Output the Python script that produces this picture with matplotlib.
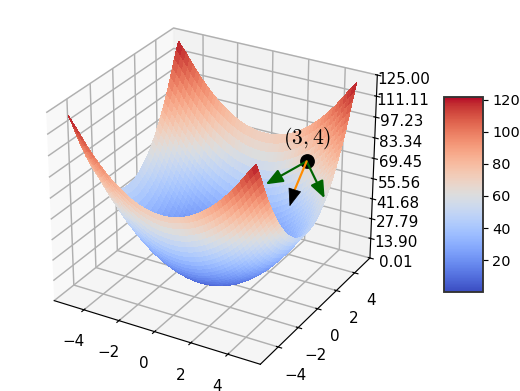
####################################################

# Load modules

import numpy as np
import matplotlib
matplotlib.use("Agg")
from matplotlib import pyplot as plt
from matplotlib import cm
from matplotlib.patches import FancyArrowPatch
from matplotlib.transforms import IdentityTransform
from mpl_toolkits.mplot3d import proj3d

####################################################

# Values

# heights of the bowl along each axis, from -5 to 0 in steps of 0.2 (mirrored for 0 to 5)
x_half = [48.5, 45.3, 42.32, 38.72, 35.28, 32, 28.88, 25.92, 23.12, 20.48, 18, 15.68, 13.52,
          11.52, 9.68, 8, 6.48, 5.12, 3.92, 2.88, 2, 1.28, 0.72, 0.32, 0.08, 0.01]
y_half = [73, 68.4, 63.48, 58.08, 52.92, 48, 43.32, 38.88, 34.68, 30.72, 27, 23.52, 20.28,
          17.28, 14.52, 12, 9.72, 7.68, 5.88, 4.32, 3, 1.92, 1.08, 0.48, 0.12, 0]
axis_half = [-5, -4.8, -4.6, -4.4, -4.2, -4, -3.8, -3.6, -3.4, -3.2, -3, -2.8, -2.6,
             -2.4, -2.2, -2, -1.8, -1.6, -1.4, -1.2, -1, -0.8, -0.6, -0.4, -0.2, 0]

z_ticks = [0.01, 13.90, 27.79, 41.68, 55.56, 69.45, 83.34, 97.23, 111.11, 125.00]
xy_ticks = [-4, -2, 0, 2, 4]
bar_ticks = [20, 40, 60, 80, 100, 120]

point = [2.9, 4, 68]
point_label = r"$(3,4)$"

####################################################

plt.rcParams["mathtext.fontset"] = "cm"
plt.rcParams["font.size"] = 10.5
plt.rcParams["grid.linewidth"] = 1.0

axis_vals = np.array(axis_half + [-v for v in axis_half[-2::-1]])
x_prof = np.array(x_half + x_half[-2::-1])
y_prof = np.array(y_half + y_half[-2::-1])
X, Y = np.meshgrid(axis_vals, axis_vals)
Z = x_prof[None, :] + y_prof[:, None]

fig = plt.figure(figsize=(5, 3.76), dpi=104)
ax = fig.add_axes([0.0135, 0.02, 0.78, 0.97], projection="3d", computed_zorder=False)
ax.view_init(elev=27.7, azim=-60)
ax.set_box_aspect((4, 4, 3.54), zoom=1.01)

surf = ax.plot_surface(X, Y, Z, rcount=51, ccount=51, cmap=cm.coolwarm,
                       linewidth=0, antialiased=False, vmin=0, vmax=122, zorder=1)
ax.set_xticks(xy_ticks)
ax.set_yticks(xy_ticks)
ax.set_zticks(z_ticks)
ax.set_zticklabels(["%.2f" % v for v in z_ticks])
ax.set_zlim(0.01, 125)

ax.scatter([point[0]], [point[1]], [point[2]], s=85, color="black", depthshade=False, zorder=10)
ax.text(point[0], point[1], point[2] + 12, point_label, fontsize=15, ha="center", zorder=11)

cax = fig.add_axes([0.854, 0.253, 0.075, 0.5])
cax.set_facecolor("0.5")
cb = fig.colorbar(surf, cax=cax, ticks=bar_ticks, alpha=0.85)
cb.outline.set_linewidth(1.3)
cb.outline.set_edgecolor("0.2")
cax.tick_params(labelsize=10, pad=3)

# arrows, as pixel offsets from the dot
fig.canvas.draw()
px, py, _ = proj3d.proj_transform(point[0], point[1], point[2], ax.get_proj())
dot = ax.transData.transform((px, py))

arrow_offsets = [(-41, -23), (18, -37)]
for dx, dy in arrow_offsets:
    fig.add_artist(FancyArrowPatch(tuple(dot), (dot[0] + dx, dot[1] + dy), transform=IdentityTransform(),
                                   arrowstyle="-|>,head_length=0.7,head_width=0.28", mutation_scale=14,
                                   color="darkgreen", lw=1.5, shrinkA=0, shrinkB=0))
fig.add_artist(FancyArrowPatch(tuple(dot), (dot[0] - 13, dot[1] - 31), transform=IdentityTransform(),
                               arrowstyle="-", color="darkorange", lw=1.5, shrinkA=0, shrinkB=0))
fig.add_artist(FancyArrowPatch((dot[0] - 12, dot[1] - 29), (dot[0] - 17, dot[1] - 45), transform=IdentityTransform(),
                               arrowstyle="-|>,head_length=0.8,head_width=0.3", mutation_scale=14,
                               color="black", lw=0.5, shrinkA=0, shrinkB=0))

fig.savefig("out.png", dpi=104)
